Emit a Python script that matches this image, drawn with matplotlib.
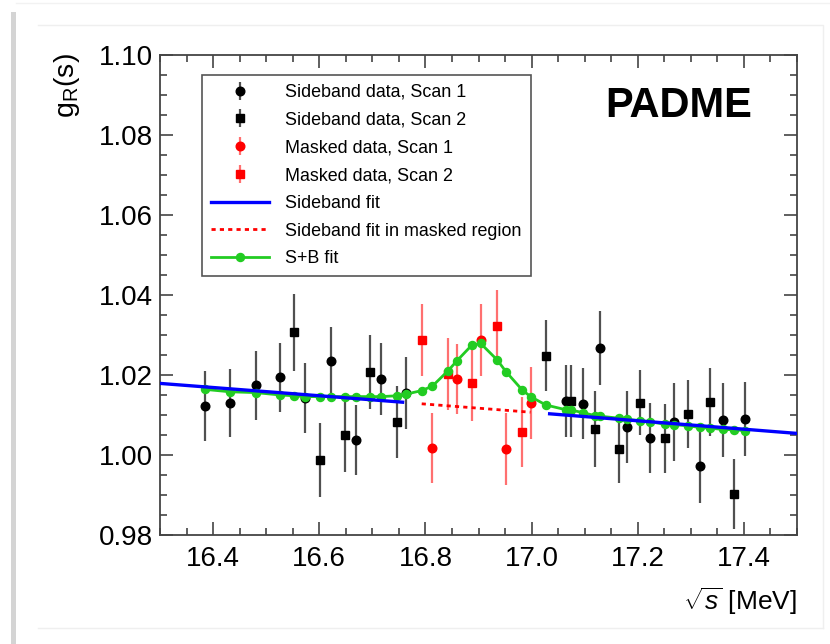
import matplotlib
matplotlib.use('Agg')
import matplotlib.pyplot as plt
from matplotlib.lines import Line2D
from matplotlib.patches import Rectangle
from matplotlib.ticker import MultipleLocator, FormatStrFormatter

plt.rcParams['font.family'] = ['Liberation Sans', 'DejaVu Sans']
plt.rcParams['mathtext.fontset'] = 'custom'
plt.rcParams['mathtext.rm'] = 'Liberation Sans'
plt.rcParams['mathtext.it'] = 'Liberation Sans:italic'

# sideband data, scan 1 (circles)
s1_x = [16.385, 16.432, 16.480, 16.527, 16.574, 16.623, 16.670, 16.716, 16.763,
        17.065, 17.097, 17.129, 17.179, 17.223, 17.268, 17.317, 17.361, 17.402]
s1_y = [1.0122, 1.0130, 1.0174, 1.0194, 1.0143, 1.0234, 1.0038, 1.0190, 1.0154,
        1.0136, 1.0128, 1.0268, 1.0069, 1.0042, 1.0083, 0.9973, 1.0087, 1.0090]
s1_err = [0.0088, 0.0085, 0.0087, 0.0087, 0.0087, 0.0087, 0.0088, 0.0090, 0.0090,
          0.0090, 0.0089, 0.0092, 0.0090, 0.0088, 0.0098, 0.0094, 0.0093, 0.0093]

# sideband data, scan 2 (squares)
s2_x = [16.553, 16.601, 16.649, 16.696, 16.746, 17.027, 17.075, 17.120, 17.165,
        17.205, 17.251, 17.294, 17.336, 17.382]
s2_y = [1.0307, 0.9988, 1.0049, 1.0208, 1.0082, 1.0248, 1.0136, 1.0066, 1.0015,
        1.0131, 1.0042, 1.0102, 1.0133, 0.9903]
s2_err = [0.0096, 0.0093, 0.0092, 0.0093, 0.0090, 0.0089, 0.0090, 0.0095, 0.0085,
          0.0082, 0.0086, 0.0085, 0.0085, 0.0088]

# masked data
m1_x = [16.813, 16.859, 16.904, 16.952, 16.998]
m1_y = [1.0018, 1.0190, 1.0288, 1.0014, 1.0129]
m1_err = [0.0087, 0.0088, 0.0090, 0.0090, 0.0090]

m2_x = [16.793, 16.843, 16.887, 16.935, 16.982]
m2_y = [1.0288, 1.0202, 1.0179, 1.0323, 1.0058]
m2_err = [0.0090, 0.0090, 0.0095, 0.0089, 0.0087]

# sideband fit (two pieces) and its extension into the masked region
sb_left_x = [16.30, 16.757]
sb_left_y = [1.0179, 1.0132]
sb_right_x = [17.034, 17.50]
sb_right_y = [1.0103, 1.0054]
sb_mask_x = [16.793, 16.998]
sb_mask_y = [1.0128, 1.0107]

# S+B fit evaluated at every point
sbf_x = [16.385, 16.432, 16.480, 16.527, 16.553, 16.574, 16.601, 16.623, 16.649, 16.670,
         16.696, 16.716, 16.746, 16.763, 16.793, 16.813, 16.843, 16.859, 16.887, 16.904,
         16.935, 16.952, 16.982, 16.998, 17.027, 17.065, 17.075, 17.097, 17.120, 17.129,
         17.165, 17.179, 17.205, 17.223, 17.251, 17.268, 17.294, 17.317, 17.336, 17.361,
         17.382, 17.402]
sbf_y = [1.0164, 1.0158, 1.0156, 1.0150, 1.0148, 1.0146, 1.0146, 1.0146, 1.0146, 1.0146,
         1.0146, 1.0146, 1.0148, 1.0152, 1.0161, 1.0172, 1.0211, 1.0235, 1.0274, 1.0279,
         1.0238, 1.0208, 1.0163, 1.0146, 1.0125, 1.0113, 1.0112, 1.0106, 1.0098, 1.0097,
         1.0092, 1.0089, 1.0086, 1.0083, 1.0077, 1.0076, 1.0073, 1.0069, 1.0067, 1.0064,
         1.0063, 1.0061]

W, H = 830, 644
fig = plt.figure(figsize=(W / 100, H / 100), dpi=100)
ax = fig.add_axes([160 / W, 1 - 535 / H, (797 - 160) / W, (535 - 55) / H])

# slide-like frame around the picture
fig.add_artist(Rectangle((11 / W, 0), 5 / W, 1 - 12 / H, transform=fig.transFigure,
                         facecolor='#d4d4d4', edgecolor='none'))
fig.add_artist(Line2D([38 / W, 823 / W, 823 / W], [1 - 25 / H, 1 - 25 / H, 1 - 628 / H],
                      transform=fig.transFigure, color='#efefef', lw=1))
fig.add_artist(Line2D([38 / W, 823 / W], [1 - 628 / H, 1 - 628 / H],
                      transform=fig.transFigure, color='#efefef', lw=1))
fig.add_artist(Line2D([16 / W, 1], [1 - 3 / H, 1 - 3 / H],
                      transform=fig.transFigure, color='#f2f2f2', lw=1))

ebkw = dict(linestyle='none', elinewidth=1.6, capsize=0, zorder=3)
h_s1 = ax.errorbar(s1_x, s1_y, yerr=s1_err, fmt='o', color='black', ecolor='#505050',
                   ms=6.2, **ebkw)
h_s2 = ax.errorbar(s2_x, s2_y, yerr=s2_err, fmt='s', color='black', ecolor='#505050',
                   ms=6.0, **ebkw)
h_m1 = ax.errorbar(m1_x, m1_y, yerr=m1_err, fmt='o', color='#ff0000', ecolor='#ff7070',
                   ms=6.2, **ebkw)
h_m2 = ax.errorbar(m2_x, m2_y, yerr=m2_err, fmt='s', color='#ff0000', ecolor='#ff7070',
                   ms=6.0, **ebkw)

green = '#22cc22'
h_sbf, = ax.plot(sbf_x, sbf_y, '-o', color=green, lw=2, ms=5.8, zorder=4)
h_sb, = ax.plot(sb_left_x, sb_left_y, color='#0000ff', lw=2.4, zorder=5)
ax.plot(sb_right_x, sb_right_y, color='#0000ff', lw=2.4, zorder=5)
h_mask, = ax.plot(sb_mask_x, sb_mask_y, color='#ff0000', lw=2, ls=(0, (1.5, 1.5)), zorder=5)

ax.set_xlim(16.3, 17.5)
ax.set_ylim(0.98, 1.10)
ax.xaxis.set_major_locator(MultipleLocator(0.2))
ax.xaxis.set_minor_locator(MultipleLocator(0.05))
ax.yaxis.set_major_locator(MultipleLocator(0.02))
ax.yaxis.set_minor_locator(MultipleLocator(0.005))
ax.xaxis.set_major_formatter(FormatStrFormatter('%.1f'))
ax.yaxis.set_major_formatter(FormatStrFormatter('%.2f'))
ax.tick_params(which='both', direction='in', top=True, right=True, color='#444444',
               width=1.2, labelsize=20)
ax.tick_params(which='major', length=9.5)
ax.tick_params(which='minor', length=5)
ax.tick_params(axis='x', pad=8)
ax.tick_params(axis='y', pad=5)
for s in ax.spines.values():
    s.set_color('#444444')
    s.set_linewidth(1.3)

fig.text(67 / W, 1 - 53 / H, r'$\mathrm{g_{R}(s)}$', rotation=90, ha='center', va='top',
         fontsize=20.5)
fig.text(797 / W, 1 - 610 / H, r'$\sqrt{s}$ [MeV]', ha='right', va='baseline', fontsize=19)
fig.text(605 / W, 1 - 117 / H, 'PADME', fontsize=30, fontweight='bold', ha='left',
         va='baseline')

leg = ax.legend([h_s1, h_s2, h_m1, h_m2, h_sb, h_mask, h_sbf],
                ['Sideband data, Scan 1', 'Sideband data, Scan 2', 'Masked data, Scan 1',
                 'Masked data, Scan 2', 'Sideband fit', 'Sideband fit in masked region',
                 'S+B fit'],
                loc='upper left', bbox_to_anchor=(202 / W, 1 - 75 / H),
                bbox_transform=fig.transFigure, borderaxespad=0, fontsize=12.9,
                frameon=True, fancybox=False, framealpha=1, edgecolor='#555555',
                handlelength=3.25, handletextpad=0.9, labelspacing=0.6, borderpad=0.5)
leg.get_frame().set_linewidth(1.2)

fig.savefig('out.png', dpi=100)
